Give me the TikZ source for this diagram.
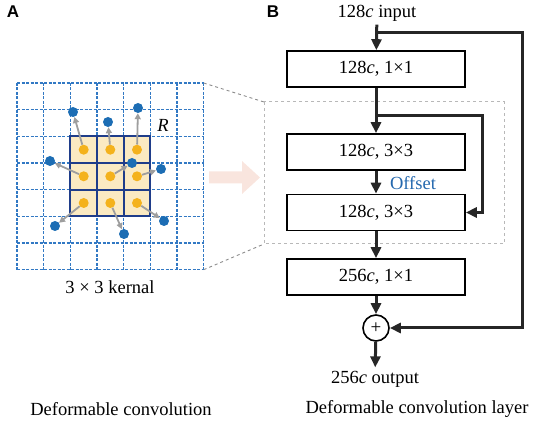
\documentclass[tikz,border=0pt]{standalone}
\usepackage{fontspec}
\setmainfont{Liberation Serif}
\setsansfont{Liberation Sans}
\usepackage{tikz}
\usetikzlibrary{arrows.meta}
\definecolor{gridblue}{HTML}{3279C4}
\definecolor{kblue}{HTML}{1F3D8A}
\definecolor{kfill}{HTML}{FBEAC2}
\definecolor{dotblue}{HTML}{1C6DB4}
\definecolor{dotorange}{HTML}{F4B21C}
\definecolor{offblue}{HTML}{2468AE}
\definecolor{pinkarrow}{HTML}{F9E5DE}
\tikzstyle{es} = [-{Triangle[length=11pt,width=10pt]}, line width=3pt, color=black!85]
\tikzstyle{ga} = [-{Triangle[length=6pt,width=6pt]}, line width=1.8pt, color=black!38]
\tikzstyle{txt} = [font=\fontsize{18.5}{22}\selectfont]
\tikzstyle{blk} = [draw, line width=1.6pt, minimum width=178pt, minimum height=36pt, txt]
\tikzstyle{odot} = [circle, fill=dotorange, inner sep=0pt, minimum size=10pt]
\tikzstyle{bdot} = [circle, fill=dotblue, inner sep=0pt, minimum size=10pt]
\tikzstyle{panel} = [font=\sffamily\bfseries\fontsize{17}{19}\selectfont]
\tikzstyle{gline} = [gridblue, line width=1.1pt, dash pattern=on 3pt off 1.5pt]

\begin{document}
\begin{tikzpicture}[x=1pt,y=-1pt]
			\useasboundingbox (0,0) rectangle (536,427);
			% A: deformable convolution
			\node[panel] (la) at (13,12) {A};
			\foreach \k in {0,...,7}{
				\draw[gline] (17+26.67*\k,83) -- (17+26.67*\k,269.7);
				\draw[gline] (17,83+26.67*\k) -- (203.7,83+26.67*\k);
			}
			\fill[kfill] (70.3,136.3) rectangle (150.3,216.3);
			\foreach \k in {0,...,3}{
				\draw[kblue, line width=1.9pt, line cap=rect] (70.3+26.67*\k,136.3) -- (70.3+26.67*\k,216.3);
				\draw[kblue, line width=1.9pt, line cap=rect] (70.3,136.3+26.67*\k) -- (150.3,136.3+26.67*\k);
			}
			\foreach \i/\ox/\oy/\bx/\by in {1/83.7/149.7/73/112, 2/110.3/149.7/108/122, 3/137/149.7/138/108,
				4/83.7/176.3/50/161, 5/110.3/176.3/132/163, 6/137/176.3/161/169,
				7/83.7/203/55/226, 8/110.3/203/124/234, 9/137/203/164/221}{
				\node[odot] (o\i) at (\ox,\oy) {};
				\node[bdot] (b\i) at (\bx,\by) {};
				\draw[ga] (o\i) -- (b\i);
			}
			\node[txt] (r) at (163,125) {\textit{R}};
			\node[txt] (kl) at (110,287) {3 × 3 kernal};
			\node[txt] (capa) at (121,409) {Deformable convolution};
			% zoom into B
			\coordinate (g1) at (203.7,83);
			\coordinate (g2) at (203.7,269.7);
			\coordinate (z1) at (264,102);
			\coordinate (z2) at (264,244);
			\draw[color=black!45, dashed, line width=0.9pt] (g1) -- (z1);
			\draw[color=black!45, dashed, line width=0.9pt] (g2) -- (z2);
			\draw[color=black!28, dashed, line width=1pt] (z1) rectangle (504,244);
			\fill[pinkarrow] (209,171.5) -- (242,171.5) -- (242,161) -- (260,177.5) -- (242,194) -- (242,183.5) -- (209,183.5) -- cycle;
			% B: deformable convolution layer
			\node[panel] (lb) at (273,12) {B};
			\node[txt] (in) at (377,13) {128\textit{c} input};
			\node[blk] (c1) at (376,69) {128\textit{c}, 1×1};
			\node[blk] (c2) at (376,152) {128\textit{c}, 3×3};
			\node[blk] (c3) at (376,212.5) {128\textit{c}, 3×3};
			\node[blk] (c4) at (376,277) {256\textit{c}, 1×1};
			\node[circle, draw, line width=1.6pt, minimum size=26pt, inner sep=0pt] (add) at (376,328) {\fontsize{19}{20}\selectfont +};
			\node[txt] (out) at (375,379) {256\textit{c} output};
			\node[txt, color=offblue] (off) at (413,183) {Offset};
			\node[txt] (capb) at (417,409) {Deformable convolution layer};
			\coordinate (sk) at (376,33);
			\coordinate (skr) at (522,33);
			\coordinate (br) at (376,116);
			\coordinate (brr) at (482,116);
			\draw[es] (in) -- (c1);
			\draw[es] (sk) -- (skr) |- (add);
			\draw[es] (c1) -- (c2);
			\draw[es] (br) -- (brr) |- (c3);
			\draw[es] (c2) -- (c3);
			\draw[es] (c3) -- (c4);
			\draw[es] (c4) -- (add);
			\draw[es] (add) -- (out);
		\end{tikzpicture}
\end{document}
